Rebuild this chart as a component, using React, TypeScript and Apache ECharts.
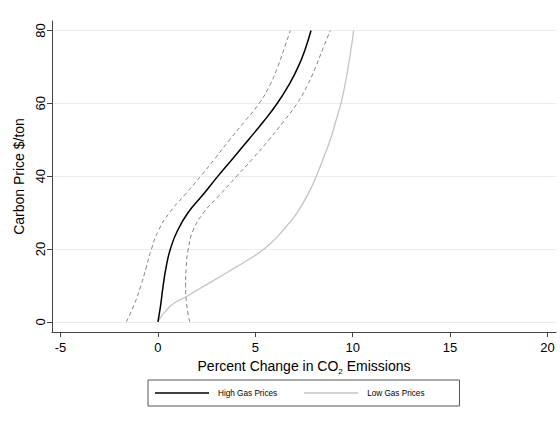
import React, { useEffect, useRef } from "react";
import * as echarts from "echarts";

// Carbon price ($/ton) levels at which each curve is read
const highPrice = [0, 2.5, 5, 10, 15, 20, 25, 30, 35, 40, 45, 50, 55, 60, 65, 70, 75, 80];
// High gas prices: percent change in CO2 emissions
const highChange = [0, 0.08, 0.15, 0.27, 0.42, 0.64, 1.0, 1.55, 2.33, 3.08, 3.87, 4.65, 5.42, 6.13, 6.72, 7.2, 7.57, 7.86];

// Confidence band around the high gas price curve
const bandPrice = [0, 5, 10, 15, 20, 25, 30, 35, 40, 45, 50, 55, 60, 65, 70, 75, 80];
const highLower = [-1.62, -1.2, -0.87, -0.6, -0.33, 0.02, 0.6, 1.4, 2.2, 2.95, 3.68, 4.45, 5.2, 5.75, 6.15, 6.48, 6.8];
const highUpper = [1.63, 1.47, 1.42, 1.45, 1.56, 1.8, 2.35, 3.2, 4.05, 4.9, 5.7, 6.45, 7.15, 7.68, 8.1, 8.47, 8.85];

// Low gas prices
const lowPrice = [0, 2.5, 5, 6.8, 8, 10, 12.5, 15, 17.5, 20, 22.5, 25, 27.5, 30, 35, 40, 45, 50, 55, 60, 65, 70, 75, 80];
const lowChange = [0, 0.32, 0.8, 1.42, 1.8, 2.43, 3.22, 4.0, 4.78, 5.45, 5.97, 6.4, 6.8, 7.15, 7.7, 8.13, 8.5, 8.85, 9.13, 9.4, 9.6, 9.77, 9.92, 10.05];

const xTicks = [-5, 0, 5, 10, 15, 20];
const yTicks = [0, 20, 40, 60, 80];

const FONT = '"Liberation Sans", Arial, Helvetica, sans-serif';

const pairs = (xs: number[], ys: number[]) => xs.map((x, i) => [x, ys[i]]);

export default function App() {
  const ref = useRef<HTMLDivElement>(null);
  useEffect(() => {
    if (!ref.current) return;
    const chart = echarts.init(ref.current, null, { renderer: "svg" });
    chart.setOption({
      animation: false,
      backgroundColor: "#ffffff",
      textStyle: { fontFamily: FONT },
      grid: { left: 52, right: 4, top: 21, bottom: 92, containLabel: false, outerBoundsMode: "none" },
      xAxis: {
        type: "value",
        min: -5.44,
        max: 20.44,
        name: "{a|Percent Change in CO}{s|2}{a| Emissions}",
        nameLocation: "middle",
        nameGap: 17,
        nameTextStyle: {
          rich: {
            a: { fontSize: 14, color: "#000", fontFamily: FONT, padding: [0, 0, 3, 0], verticalAlign: "bottom" },
            s: { fontSize: 8, color: "#000", fontFamily: FONT, verticalAlign: "bottom" },
          },
        },
        axisLine: { show: true, onZero: false, lineStyle: { color: "#444", width: 1 } },
        axisTick: { show: true, length: 5, lineStyle: { color: "#444" }, customValues: xTicks },
        axisLabel: { fontSize: 13, color: "#000", margin: 9, customValues: xTicks, fontFamily: FONT },
        splitLine: { show: false },
      },
      yAxis: {
        type: "value",
        min: -2.8,
        max: 82.6,
        name: "Carbon Price $/ton",
        nameLocation: "middle",
        nameGap: 22,
        nameTextStyle: { fontSize: 14, color: "#000", fontFamily: FONT },
        axisLine: { show: true, onZero: false, lineStyle: { color: "#444", width: 1 } },
        axisTick: { show: true, length: 5, lineStyle: { color: "#444" }, customValues: yTicks },
        axisLabel: { fontSize: 13, color: "#000", rotate: 90, margin: 5, customValues: yTicks, fontFamily: FONT },
        splitLine: { show: true, lineStyle: { color: "#e6eef1", width: 1 } },
      },
      legend: {
        data: ["High Gas Prices", "Low Gas Prices"],
        left: 148,
        top: 380,
        orient: "horizontal",
        padding: [6, 35, 6, 7],
        borderColor: "#555",
        borderWidth: 1,
        icon: "rect",
        itemWidth: 54,
        itemHeight: 1.5,
        itemGap: 27,
        textStyle: { fontSize: 8.2, color: "#000", fontFamily: FONT, padding: [0, 0, 0, 4], lineHeight: 14 },
      },
      series: [
        {
          name: "Upper bound",
          type: "line",
          data: pairs(highUpper, bandPrice),
          showSymbol: false,
          symbol: "none",
          smooth: 0.5,
          lineStyle: { color: "#808080", width: 1, type: [4, 3] },
          silent: true,
          z: 2,
        },
        {
          name: "Lower bound",
          type: "line",
          data: pairs(highLower, bandPrice),
          showSymbol: false,
          symbol: "none",
          smooth: 0.5,
          lineStyle: { color: "#808080", width: 1, type: [4, 3] },
          silent: true,
          z: 2,
        },
        {
          name: "Low Gas Prices",
          type: "line",
          data: pairs(lowChange, lowPrice),
          showSymbol: false,
          symbol: "none",
          smooth: 0.5,
          color: "#c4c4c4",
          lineStyle: { color: "#c4c4c4", width: 1.3 },
          z: 3,
        },
        {
          name: "High Gas Prices",
          type: "line",
          data: pairs(highChange, highPrice),
          showSymbol: false,
          symbol: "none",
          smooth: 0.5,
          color: "#000000",
          lineStyle: { color: "#000000", width: 1.5 },
          z: 4,
        },
      ],
    });
    return () => chart.dispose();
  }, []);
  return (
    <div
      ref={ref}
      style={{ position: "fixed", left: 0, top: 0, width: 560, height: 424 }}
    />
  );
}
